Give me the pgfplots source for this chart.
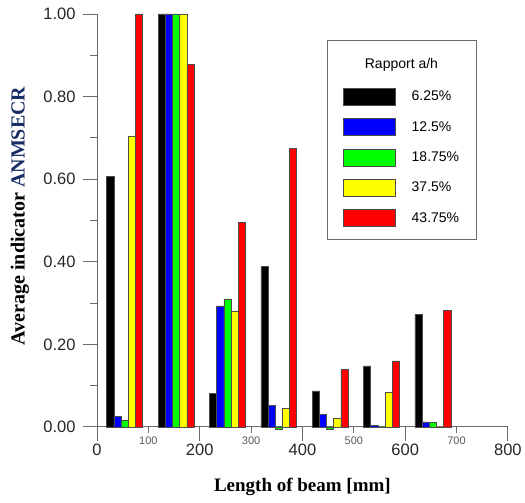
\documentclass[border=0pt]{standalone}
\usepackage{pgfplots}
\pgfplotsset{compat=1.18}
\usepackage{fontspec}
\setmainfont{Liberation Sans}
\newfontfamily\timesf{Liberation Serif}
\definecolor{axgray}{RGB}{105,105,105}
\definecolor{navy}{RGB}{25,45,100}
\definecolor{cblue}{RGB}{0,0,255}
\definecolor{cgreen}{RGB}{0,255,0}
\definecolor{cyellow}{RGB}{255,255,0}
\definecolor{cred}{RGB}{255,0,0}
\pgfplotsset{
  mybar/.style={ybar, bar width=14, bar shift=0pt, draw=black!70, line width=0.6pt,
    legend image code/.code={\draw[##1] (0pt,-8.5pt) rectangle (52pt,8.5pt);}},
}
\begin{document}
\begin{tikzpicture}
\begin{axis}[
  scale only axis, width=411pt, height=413pt,
  xmin=0, xmax=800, ymin=0, ymax=1,
  clip=false,
  axis lines*=left,
  axis line style={axgray, line width=0.9pt},
  tick style={axgray, line width=0.9pt},
  tick align=outside,
  major tick length=14pt, minor tick length=7pt,
  xtick={0,200,400,600,800},
  ytick={0,0.2,0.4,0.6,0.8,1},
  minor ytick={0.1,0.3,0.5,0.7,0.9},
  extra x ticks={100,300,500,700},
  extra x tick style={major tick length=6pt, tick label style={font=\fontsize{11}{13}\selectfont, text=black!65}},
  /pgf/number format/assume math mode=true,
  tick label style={font=\fontsize{16.5}{19}\selectfont, text=black!85},
  yticklabel style={/pgf/number format/fixed, /pgf/number format/fixed zerofill, /pgf/number format/precision=2, xshift=-4pt},
  every axis y label/.style={at={(rel axis cs:0,0.511)}, xshift=-77pt, rotate=90, anchor=center},
  every axis x label/.style={at={(rel axis cs:0.5,0)}, yshift=-60pt, anchor=center},
  ylabel={\fontsize{20}{23}\selectfont\timesf\bfseries Average indicator \textcolor{navy}{ANMSECR}},
  xlabel={\fontsize{19}{22}\selectfont\timesf\bfseries Length of beam [mm]},
  legend cell align=left,
  legend style={at={(rel axis cs:0.5985,0.4843)}, anchor=south west,
    draw=none, fill=none, inner sep=0pt,
    font=\fontsize{14}{17}\selectfont, row sep=12.7pt, column sep=16pt,
    nodes={inner sep=0pt}},
]
\addplot[mybar, fill=black] coordinates {(26,0.607) (126,1.0) (226,0.082) (326,0.388) (426,0.087) (526,0.148) (626,0.273)};
\addlegendentry{6.25\%}
\addplot[mybar, fill=cblue] coordinates {(40,0.025) (140,1.0) (240,0.293) (340,0.053) (440,0.031) (540,0.003) (640,0.012)};
\addlegendentry{12.5\%}
\addplot[mybar, fill=cgreen] coordinates {(54,0.016) (154,1.0) (254,0.31) (354,-0.006) (454,-0.005) (554,-0.002) (654,0.01)};
\addlegendentry{18.75\%}
\addplot[mybar, fill=cyellow] coordinates {(68,0.705) (168,1.0) (268,0.281) (368,0.045) (468,0.021) (568,0.083) (668,0.0)};
\addlegendentry{37.5\%}
\addplot[mybar, fill=cred] coordinates {(82,1.0) (182,0.877) (282,0.496) (382,0.675) (482,0.14) (582,0.16) (682,0.283)};
\addlegendentry{43.75\%}
\draw[axgray, line width=0.9pt] (rel axis cs:0.5620,0.9370) rectangle (rel axis cs:0.9246,0.4552);
\node[font=\fontsize{14}{17}\selectfont, anchor=center] at (rel axis cs:0.7409,0.8766) {Rapport a/h};
\end{axis}
\path ([xshift=-97pt,yshift=-76pt]current axis.south west) rectangle ++(525pt,503pt);
\end{tikzpicture}
\end{document}
